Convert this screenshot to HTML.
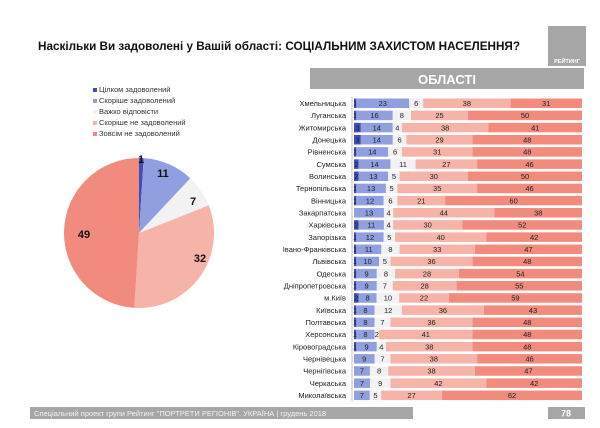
<!DOCTYPE html>
<html><head><meta charset="utf-8"><style>
html,body{margin:0;padding:0;background:#fff;}
svg{display:block;font-family:"Liberation Sans",sans-serif;}
</style></head><body>
<svg id="s" width="600" height="428" viewBox="0 0 600 428" xmlns="http://www.w3.org/2000/svg">
<text x="38" y="50" font-size="12" font-weight="bold" fill="#111" textLength="482" lengthAdjust="spacingAndGlyphs">Наскільки Ви задоволені у Вашій області: СОЦІАЛЬНИМ ЗАХИСТОМ НАСЕЛЕННЯ?</text>
<rect x="548" y="26" width="38" height="40" fill="#a6a6a6"/>
<text x="567" y="63" text-anchor="middle" font-size="5.5" font-weight="bold" fill="#fff">РЕЙТИНГ</text>
<rect x="310" y="68" width="274" height="21" fill="#a6a6a6"/>
<text x="447" y="84" text-anchor="middle" font-size="13" font-weight="bold" fill="#fff">ОБЛАСТІ</text>
<g font-size="7.5" fill="#333">
<rect x="93" y="88" width="4" height="4" fill="#3d4fb8"/><text x="99" y="92">Цілком задоволений</text>
<rect x="93" y="99" width="4" height="4" fill="#8f9fe0"/><text x="99" y="103">Скоріше задоволений</text>
<rect x="93" y="110" width="4" height="4" fill="#f2f2f2"/><text x="99" y="114">Важко відповісти</text>
<rect x="93" y="121" width="4" height="4" fill="#f6b3a8"/><text x="99" y="125">Скоріше не задоволений</text>
<rect x="93" y="132" width="4" height="4" fill="#f08b7e"/><text x="99" y="136">Зовсім не задоволений</text>
</g>
<g id="pie"></g>
<g id="bars"></g>
<rect x="30" y="407" width="383" height="12" fill="#a6a6a6"/>
<text x="34" y="416" font-size="7.5" fill="#f4f4f4">Спеціальний проект групи Рейтинг "ПОРТРЕТИ РЕГІОНІВ". УКРАЇНА | грудень 2018</text>
<rect x="548" y="407" width="37" height="12" fill="#a6a6a6"/>
<text x="566" y="416.5" text-anchor="middle" font-size="9" font-weight="bold" fill="#fff">78</text>
</svg>
<script>
var NS="http://www.w3.org/2000/svg";
function el(p,t,a,txt){var e=document.createElementNS(NS,t);for(var k in a)e.setAttribute(k,a[k]);if(txt!=null)e.textContent=txt;p.appendChild(e);return e;}
var cols=["#3d4fb8","#8f9fe0","#f2f2f2","#f6b3a8","#f08b7e"];
var pie=document.getElementById("pie");
var cx=139,cy=233,r=75,vals=[1,11,7,32,49],a=0;
vals.forEach(function(v,i){var a0=a/100*2*Math.PI,a1=(a+v)/100*2*Math.PI;
var x0=cx+r*Math.sin(a0),y0=cy-r*Math.cos(a0),x1=cx+r*Math.sin(a1),y1=cy-r*Math.cos(a1);
el(pie,"path",{d:"M"+cx+","+cy+"L"+x0+","+y0+"A"+r+","+r+" 0 "+(v>50?1:0)+" 1 "+x1+","+y1+"Z",fill:cols[i]});a+=v;});
var pl=[[141,163,"1"],[163,177,"11"],[193,205,"7"],[200,262,"32"],[84,238,"49"]];
pl.forEach(function(p){el(pie,"text",{x:p[0],y:p[1],"font-size":"11","font-weight":"bold",fill:"#111","text-anchor":"middle"},p[2]);});
var d=[["Хмельницька",1,23,6,38,31],["Луганська",1,16,8,25,50],["Житомирська",3,14,4,38,41],["Донецька",3,14,6,29,48],["Рівненська",1,14,6,31,48],["Сумська",2,14,11,27,46],["Волинська",2,13,5,30,50],["Тернопільська",1,13,5,35,46],["Вінницька",1,12,6,21,60],["Закарпатська",0,13,4,44,38],["Харківська",2,11,4,30,52],["Запорізька",1,12,5,40,42],["Івано-Франківська",1,11,8,33,47],["Львівська",1,10,5,36,48],["Одеська",1,9,8,28,54],["Дніпропетровська",1,9,7,28,55],["м.Київ",2,8,10,22,59],["Київська",1,8,12,36,43],["Полтавська",1,8,7,36,48],["Херсонська",1,8,2,41,48],["Кіровоградська",1,9,4,38,48],["Чернівецька",0,9,7,38,46],["Чернігівська",0,7,8,38,47],["Черкаська",0,7,9,42,42],["Миколаївська",0,7,5,27,62]];
var bars=document.getElementById("bars");
var x0=354,W=228,y=103,step=12.17;
el(bars,"line",{x1:352,y1:97,x2:352,y2:401,stroke:"#999","stroke-width":"0.6"});
d.forEach(function(row,ri){var yy=y+ri*step;
el(bars,"text",{x:346,y:yy+3,"font-size":"7.5",fill:"#222","text-anchor":"end"},row[0]);
var s=row[1]+row[2]+row[3]+row[4]+row[5],x=x0;
for(var i=0;i<5;i++){var v=row[i+1];if(!v)continue;var w=v/s*W;
el(bars,"rect",{x:x,y:yy-4.5,width:w,height:9.5,fill:cols[i]});
el(bars,"text",{x:x+w/2,y:yy+3,"font-size":"7.5",fill:"#222","text-anchor":"middle"},String(v));x+=w;}});
</script>
</body></html>
